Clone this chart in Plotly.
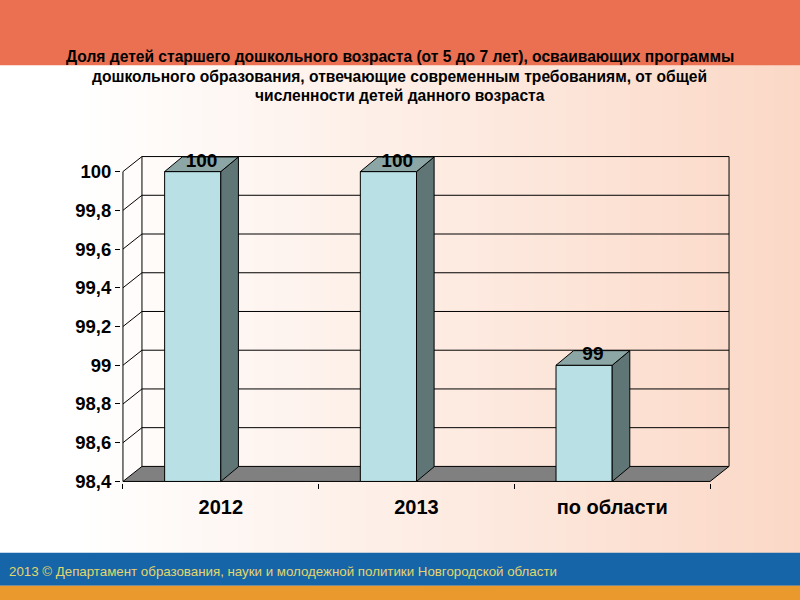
import base64, struct, zlib
import plotly.graph_objects as go

# ---------------- data ----------------
categories = ["2012", "2013", "по области"]
values = [100, 100, 99]
value_labels = ["100", "100", "99"]
y_ticks = [98.4, 98.6, 98.8, 99.0, 99.2, 99.4, 99.6, 99.8, 100.0]
y_tick_labels = ["98,4", "98,6", "98,8", "99", "99,2", "99,4", "99,6", "99,8", "100"]
title_lines = [
    "Доля детей старшего дошкольного возраста (от 5 до 7 лет), осваивающих программы",
    "дошкольного образования, отвечающие современным требованиям, от общей",
    "численности детей данного возраста",
]
footer_text = "2013 © Департамент образования, науки и молодежной политики Новгородской области"

# ---------------- geometry / style ----------------
W, H = 800, 600
YMIN, YMAX_VAL = 98.4, 100.0
PX_X = 195.67           # px per category unit
PX_Y = 193.1            # px per value unit
DXW, DYW = 19 / PX_X, 15 / PX_Y      # wall depth
DXB, DYB = 17.6 / PX_X, 14.6 / PX_Y  # bar depth
FL, FR = -0.287, 0.0                  # bar front face relative to category
PADX, PADY = 0.01, 0.008

x0, x1 = -0.5 - PADX, len(categories) - 0.5 + DXW + PADX
y0, y1 = YMIN - PADY, YMAX_VAL + DYW + PADY
plot_w = (x1 - x0) * PX_X
plot_h = (y1 - y0) * PX_Y
left = 123 - PADX * PX_X
bottom_px = 481 + PADY * PX_Y
m_l = left
m_r = W - left - plot_w
m_b = H - bottom_px
m_t = H - m_b - plot_h

FONT = "Arial, Liberation Sans, sans-serif"
FRONT = "#B9E0E4"
TOP = "#8CA5A5"
SIDE = "#607676"
FLOOR = "#808080"

fig = go.Figure()

def poly(xs, ys, fill, width=1):
    fig.add_trace(go.Scatter(x=xs + [xs[0]], y=ys + [ys[0]], mode="lines", fill="toself",
                             fillcolor=fill, line=dict(color="black", width=width),
                             hoverinfo="skip", showlegend=False))

def line(xs, ys, width=1):
    fig.add_trace(go.Scatter(x=xs, y=ys, mode="lines", line=dict(color="black", width=width),
                             hoverinfo="skip", showlegend=False))

n = len(categories)
xl, xr = -0.5, n - 0.5
# floor
poly([xl, xr, xr + DXW, xl + DXW], [YMIN, YMIN, YMIN + DYW, YMIN + DYW], FLOOR)
# gridlines on side and back wall
for v in y_ticks[1:]:
    line([xl, xl + DXW, xr + DXW], [v, v + DYW, v + DYW])
# wall edges
line([xl + DXW, xl + DXW], [YMIN + DYW, YMAX_VAL + DYW])
line([xr + DXW, xr + DXW], [YMIN + DYW, YMAX_VAL + DYW])
# front vertical axis line
line([xl, xl], [YMIN, YMAX_VAL])

# bars
for i, v in enumerate(values):
    a, b = i + FL, i + FR
    poly([a, b, b, a], [YMIN, YMIN, v, v], FRONT)
    poly([b, b + DXB, b + DXB, b], [YMIN, YMIN + DYB, v + DYB, v], SIDE)
    poly([a, b, b + DXB, a + DXB], [v, v, v + DYB, v + DYB], TOP)

# value labels
fig.add_trace(go.Scatter(
    x=[i + (FL + FR + DXB) / 2 for i in range(n)],
    y=[v + DYB / 2 + 0.012 for v in values],
    mode="text", text=value_labels, textposition="middle center",
    textfont=dict(family=FONT, size=19, color="black", weight="bold"),
    cliponaxis=False, hoverinfo="skip", showlegend=False))

# background gradient image
def gradient_png(width):
    raw = bytearray([0])
    for x in range(width):
        t = 0.0 if x < 20 else (x - 20) / (width - 20)
        c0, c1 = (255, 255, 255), (251, 216, 198)
        raw += bytes(int(round(c0[k] + (c1[k] - c0[k]) * t)) for k in range(3))
    rows = bytes(raw)
    def chunk(tag, data):
        c = struct.pack(">I", len(data)) + tag + data
        return c + struct.pack(">I", zlib.crc32(tag + data) & 0xffffffff)
    png = b"\x89PNG\r\n\x1a\n" + chunk(b"IHDR", struct.pack(">IIBBBBB", width, 1, 8, 2, 0, 0, 0))
    png += chunk(b"IDAT", zlib.compress(rows)) + chunk(b"IEND", b"")
    return "data:image/png;base64," + base64.b64encode(png).decode()

def py(px):
    return (H - m_b - px) / plot_h
def pxx(px):
    return (px - m_l) / plot_w

annotations = []
for k, t in enumerate(title_lines):
    annotations.append(dict(text=t, xref="paper", yref="paper", x=pxx(400),
                            y=py([57, 77, 96][k]), xanchor="center", yanchor="middle",
                            showarrow=False, font=dict(family=FONT, size=15.6, color="black", weight="bold")))
annotations.append(dict(text=footer_text, xref="paper", yref="paper", x=pxx(7),
                        y=py(571), xanchor="left", yanchor="middle", showarrow=False,
                        font=dict(family=FONT, size=13.3, color="#E4D66C")))

shapes = [
    dict(type="rect", xref="paper", yref="paper", x0=pxx(0), x1=pxx(W), y0=py(66), y1=py(0),
         fillcolor="#EB7052", line=dict(width=0), layer="below"),
    dict(type="rect", xref="paper", yref="paper", x0=pxx(0), x1=pxx(W), y0=py(585), y1=py(552),
         fillcolor="#1565A8", line=dict(width=0), layer="below"),
    dict(type="rect", xref="paper", yref="paper", x0=pxx(0), x1=pxx(W), y0=py(600), y1=py(585),
         fillcolor="#EA992C", line=dict(width=0), layer="below"),
]

fig.update_layout(
    width=W, height=H,
    margin=dict(l=m_l, r=m_r, t=m_t, b=m_b, pad=0),
    paper_bgcolor="white", plot_bgcolor="rgba(0,0,0,0)",
    showlegend=False,
    images=[dict(source=gradient_png(200), xref="paper", yref="paper", x=pxx(0), y=py(0),
                 sizex=W / plot_w, sizey=H / plot_h, xanchor="left", yanchor="top",
                 sizing="stretch", layer="below")],
    shapes=shapes,
    annotations=annotations,
    xaxis=dict(range=[x0, x1], tickvals=list(range(n)), ticktext=categories,
               showgrid=False, zeroline=False, showline=False, ticks="", ticklabelstandoff=10,
               tickfont=dict(family=FONT, size=20, color="black", weight="bold")),
    xaxis2=dict(range=[x0, x1], overlaying="x", anchor="y", side="bottom",
                tickvals=[i - 0.5 for i in range(n + 1)], showticklabels=False,
                ticks="outside", ticklen=5, tickcolor="black", tickwidth=1,
                showgrid=False, zeroline=False, showline=False),
    yaxis=dict(range=[y0, y1], tickvals=y_ticks, ticktext=y_tick_labels,
               showgrid=False, zeroline=False, showline=False,
               ticks="outside", ticklen=5, tickcolor="black", tickwidth=1,
               tickfont=dict(family=FONT, size=18.5, color="black", weight="bold")),
)
# invisible trace to activate xaxis2
fig.add_trace(go.Scatter(x=[x0], y=[y0], xaxis="x2", mode="markers", marker=dict(opacity=0),
                         hoverinfo="skip", showlegend=False))

fig.write_html("out.html", config={"displayModeBar": False},
               post_script="document.body.style.margin='0px';")
